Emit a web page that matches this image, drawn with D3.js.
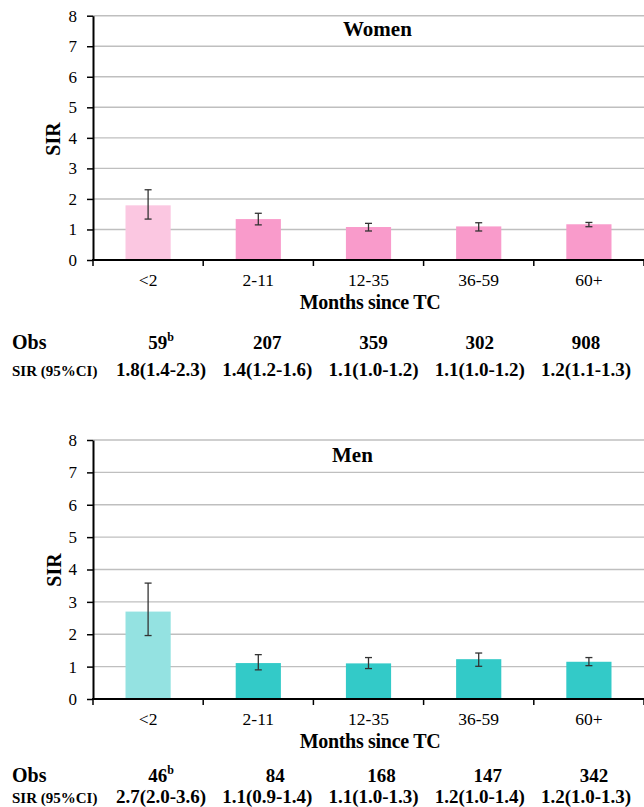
<!DOCTYPE html>
<html><head><meta charset="utf-8">
<script src="https://cdn.jsdelivr.net/npm/d3@7"></script>
<style>body{margin:0;background:#fff;} svg{display:block;} text{font-family:"Liberation Serif","Times New Roman",serif !important;}</style>
</head><body>
<svg id="chart" width="644" height="807"></svg>
<script>
const categories = ["<2", "2-11", "12-35", "36-59", "60+"];
const yTicks = [0, 1, 2, 3, 4, 5, 6, 7, 8];

const womenSIR  = [1.79, 1.34, 1.08, 1.10, 1.17];
const womenLow  = [1.34, 1.15, 0.95, 0.95, 1.09];
const womenHigh = [2.30, 1.53, 1.20, 1.22, 1.23];
const womenObs  = ["59", "207", "359", "302", "908"];
const womenCI   = ["1.8(1.4-2.3)", "1.4(1.2-1.6)", "1.1(1.0-1.2)", "1.1(1.0-1.2)", "1.2(1.1-1.3)"];

const menSIR  = [2.70, 1.11, 1.10, 1.23, 1.15];
const menLow  = [1.96, 0.90, 0.94, 1.01, 1.03];
const menHigh = [3.58, 1.37, 1.28, 1.42, 1.28];
const menObs  = ["46", "84", "168", "147", "342"];
const menCI   = ["2.7(2.0-3.6)", "1.1(0.9-1.4)", "1.1(1.0-1.3)", "1.2(1.0-1.4)", "1.2(1.0-1.3)"];

const FONT = "'Liberation Serif', 'Times New Roman', serif";
const svg = d3.select("#chart");

function panel(cfg) {
  const g = svg.append("g").style("font-family", FONT);
  const x = d3.scaleBand().domain(categories).range([93, 644]).paddingInner(0.59).paddingOuter(0.295);
  const y = d3.scaleLinear().domain([0, 8]).range([cfg.bottom, cfg.top]);
  const step = x.step();

  // gridlines
  g.selectAll("line.grid").data(yTicks.filter(d => d > 0)).join("line")
    .attr("x1", 93).attr("x2", 644)
    .attr("y1", d => y(d)).attr("y2", d => y(d))
    .attr("stroke", "#bfbfbf").attr("stroke-width", 1.4);

  // bars
  g.selectAll("rect.bar").data(categories).join("rect")
    .attr("x", d => x(d)).attr("width", x.bandwidth())
    .attr("y", (d, i) => y(cfg.sir[i]))
    .attr("height", (d, i) => y(0) - y(cfg.sir[i]))
    .attr("fill", (d, i) => i === 0 ? cfg.light : cfg.main);

  // error bars
  const eb = g.selectAll("g.err").data(categories).join("g")
    .attr("transform", d => `translate(${x(d) + x.bandwidth() / 2},0)`);
  eb.append("line").attr("y1", (d, i) => y(cfg.low[i])).attr("y2", (d, i) => y(cfg.high[i]))
    .attr("stroke", "#333").attr("stroke-width", 1.3);
  eb.append("line").attr("x1", -3.5).attr("x2", 3.5).attr("y1", (d, i) => y(cfg.low[i])).attr("y2", (d, i) => y(cfg.low[i]))
    .attr("stroke", "#333").attr("stroke-width", 1.3);
  eb.append("line").attr("x1", -3.5).attr("x2", 3.5).attr("y1", (d, i) => y(cfg.high[i])).attr("y2", (d, i) => y(cfg.high[i]))
    .attr("stroke", "#333").attr("stroke-width", 1.3);

  // y axis
  const ya = g.append("g").attr("transform", "translate(93,0)")
    .call(d3.axisLeft(y).tickValues(yTicks).tickSize(6).tickSizeOuter(0).tickPadding(10));
  ya.attr("font-family", null).style("font-family", FONT);
  ya.select(".domain").attr("stroke", "#000").attr("stroke-width", 2);
  ya.selectAll(".tick line").attr("stroke", "#000").attr("stroke-width", 1.5);
  ya.selectAll(".tick text").attr("font-size", 17).attr("fill", "#000").style("font-family", FONT);

  // x axis line + ticks at boundaries
  g.append("line").attr("x1", 92).attr("x2", 644).attr("y1", y(0)).attr("y2", y(0))
    .attr("stroke", "#000").attr("stroke-width", 2);
  const bounds = d3.range(categories.length + 1).map(i => 93 + i * step);
  g.selectAll("line.xt").data(bounds).join("line")
    .attr("x1", d => d).attr("x2", d => d).attr("y1", y(0)).attr("y2", y(0) + 6)
    .attr("stroke", "#000").attr("stroke-width", 1.5);
  g.selectAll("text.xl").data(categories).join("text")
    .attr("x", d => x(d) + x.bandwidth() / 2).attr("y", y(0) + 26)
    .attr("text-anchor", "middle").attr("font-size", 17.5).style("font-family", FONT).text(d => d);

  // axis titles
  g.append("text").attr("x", 370).attr("y", y(0) + 49).attr("text-anchor", "middle")
    .attr("font-size", 20).attr("font-weight", "bold").attr("letter-spacing", -0.3).text("Months since TC");
  g.append("text").attr("transform", `translate(${cfg.sirX},${cfg.sirY}) rotate(-90)`)
    .attr("text-anchor", "middle").attr("font-size", 20).attr("font-weight", "bold").text("SIR");

  // panel title
  g.append("text").attr("x", cfg.titleX).attr("y", cfg.titleY)
    .attr("font-size", 21).attr("font-weight", "bold").text(cfg.title);

  // table rows
  const col = d3.scalePoint().domain(categories).range([161, 586]);
  g.append("text").attr("x", 12).attr("y", cfg.obsY).attr("font-size", 20).attr("font-weight", "bold").text("Obs");
  const ot = g.selectAll("text.obs").data(categories).join("text")
    .attr("x", (d, i) => col(d) + (i > 0 ? cfg.obsShift : 0)).attr("y", cfg.obsY)
    .attr("text-anchor", "middle").attr("font-size", 19).attr("font-weight", "bold");
  ot.append("tspan").text((d, i) => cfg.obs[i]);
  ot.filter((d, i) => i === 0).append("tspan").attr("dy", -8).attr("font-size", 12).text("b");

  g.append("text").attr("x", 12).attr("y", cfg.ciY).attr("font-size", 15).attr("font-weight", "bold").text("SIR (95%CI)");
  g.selectAll("text.ci").data(categories).join("text")
    .attr("x", d => col(d)).attr("y", cfg.ciY)
    .attr("text-anchor", "middle").attr("font-size", 19).attr("font-weight", "bold")
    .text((d, i) => cfg.ci[i]);
}

panel({top: 15.7, bottom: 260, sir: womenSIR, low: womenLow, high: womenHigh, obs: womenObs, ci: womenCI,
  light: "#fbc7e1", main: "#f99bcb", title: "Women", titleX: 343, titleY: 36,
  sirX: 60, sirY: 139, obsY: 349, ciY: 376, obsShift: 0});
panel({top: 440, bottom: 699, sir: menSIR, low: menLow, high: menHigh, obs: menObs, ci: menCI,
  light: "#94e2e1", main: "#33cac8", title: "Men", titleX: 332, titleY: 462,
  sirX: 61, sirY: 570, obsY: 782, ciY: 803, obsShift: 8});
</script>
</body></html>
